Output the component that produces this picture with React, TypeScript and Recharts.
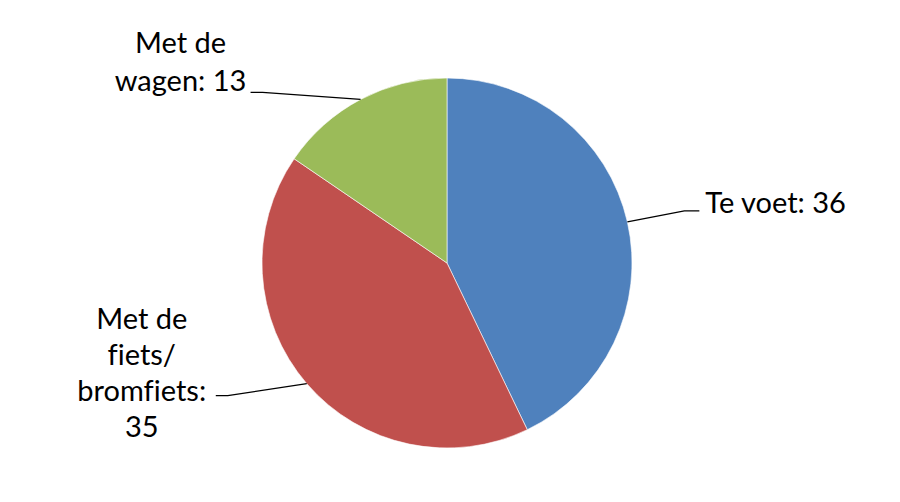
import React from "react";
import { PieChart, Pie, Cell } from "recharts";

const categories = ["Te voet", "Met de fiets/ bromfiets", "Met de wagen"];
const values = [36, 35, 13];
const colors = ["#4F81BD", "#C0504D", "#9BBB59"];
const labelLines = [["Te voet: 36"], ["Met de", "fiets/", "bromfiets:", "35"], ["Met de", "wagen: 13"]];

// label layout relative to the arc midpoint
const layout = [
  { ex: 57, ey: -11, hx: 72, tx: 78, ty: -9, anchor: "start", lh: 36 },
  { ex: -79, ey: 12, hx: -91, tx: -165, ty: -55, anchor: "middle", lh: 36 },
  { ex: -98, ey: -7, hx: -110, tx: -180, ty: -46, anchor: "middle", lh: 38 },
];

const data = categories.map((name, i) => ({ name, value: values[i] }));

const FONT = "Lato, 'Open Sans', sans-serif";

const renderLabel = (props: any) => {
  const { cx, cy, midAngle, outerRadius, index } = props;
  const rad = (Math.PI / 180) * midAngle;
  const px = cx + outerRadius * Math.cos(rad);
  const py = cy - outerRadius * Math.sin(rad);
  const L = layout[index];
  const lines = labelLines[index];
  return (
    <g key={`lbl-${index}`}>
      <polyline
        points={`${px},${py} ${px + L.ex},${py + L.ey} ${px + L.hx},${py + L.ey}`}
        fill="none"
        stroke="#000"
        strokeWidth={1.2}
      />
      <text
        x={px + L.tx}
        y={py + L.ty}
        textAnchor={L.anchor as any}
        fontFamily={FONT}
        fontSize={29}
        fill="#000"
        style={{ fontVariantLigatures: "none" }}
      >
        {lines.map((t, j) => (
          <tspan key={j} x={px + L.tx} dy={j === 0 ? 0 : L.lh}>
            {t}
          </tspan>
        ))}
      </text>
    </g>
  );
};

export default function App() {
  return (
    <div style={{ position: "fixed", left: 0, top: 0, width: 900, height: 502, background: "#fff" }}>
      <PieChart width={900} height={502} margin={{ top: 0, right: 0, bottom: 0, left: 0 }}>
        <Pie
          data={data}
          dataKey="value"
          nameKey="name"
          cx={447}
          cy={263}
          outerRadius={185}
          startAngle={90}
          endAngle={-270}
          stroke="#fff"
          strokeWidth={0.6}
          label={renderLabel}
          labelLine={false}
          isAnimationActive={false}
        >
          {data.map((d, i) => (
            <Cell key={d.name} fill={colors[i]} />
          ))}
        </Pie>
      </PieChart>
    </div>
  );
}
